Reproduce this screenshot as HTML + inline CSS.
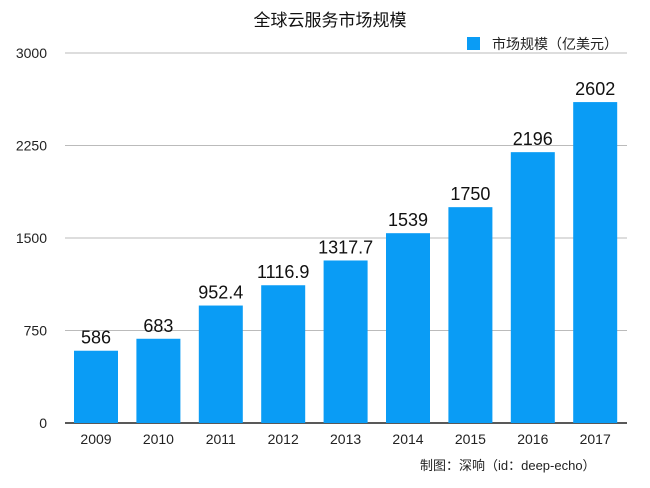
<!DOCTYPE html>
<html><head><meta charset="utf-8"><style>
body{margin:0;background:#fff;}
svg text{font-family:"Liberation Sans","Noto Sans CJK SC",sans-serif;}
</style></head><body>
<svg width="650" height="483" xmlns="http://www.w3.org/2000/svg">
<text x="330" y="26" text-anchor="middle" font-size="17" fill="#111">全球云服务市场规模</text>
<rect x="467" y="37" width="13" height="13" fill="#0a9cf5"/>
<text x="492" y="49" font-size="14" fill="#222">市场规模（亿美元）</text>
<g id="grid"></g><g id="bars"></g>
<text x="420" y="470" font-size="13" fill="#222">制图：深响（id：deep-echo）</text>
</svg>
<script>
const categories=["2009","2010","2011","2012","2013","2014","2015","2016","2017"];
const values=[586,683,952.4,1116.9,1317.7,1539,1750,2196,2602];
const labels=["586","683","952.4","1116.9","1317.7","1539","1750","2196","2602"];
const ticks=[0,750,1500,2250,3000];
const NS="http://www.w3.org/2000/svg";
const y0=423,yTop=53,max=3000,left=65,right=627;
const y=v=>y0-(v/max)*(y0-yTop);
const x=i=>74+i*62.4;
function mk(t,a,p,txt){const e=document.createElementNS(NS,t);for(const k in a)e.setAttribute(k,a[k]);if(txt!==undefined)e.textContent=txt;p.appendChild(e);return e;}
const g=document.getElementById('grid'),b=document.getElementById('bars');
ticks.forEach(t=>{
 const l=mk('line',{x1:left,x2:right,y1:y(t),y2:y(t),stroke:t===0?'#222':'#bbb','stroke-width':t===0?1.5:1},g);
 
 
 const tx=mk('text',{x:47,y:y(t)+5,'text-anchor':'end','font-size':14,fill:'#222'},g,String(t));
 
 
});
categories.forEach((c,i)=>{
 const r=mk('rect',{x:x(i),y:y(values[i]),width:44,height:y0-y(values[i]),fill:'#0a9cf5'},b);
 
 
 const v=mk('text',{x:x(i)+22,y:y(values[i])-7,'text-anchor':'middle','font-size':18,fill:'#111'},b,labels[i]);
 
 
 const t=mk('text',{x:x(i)+22,y:444,'text-anchor':'middle','font-size':14,fill:'#222'},b,c);
 
 
});
</script>
</body></html>
